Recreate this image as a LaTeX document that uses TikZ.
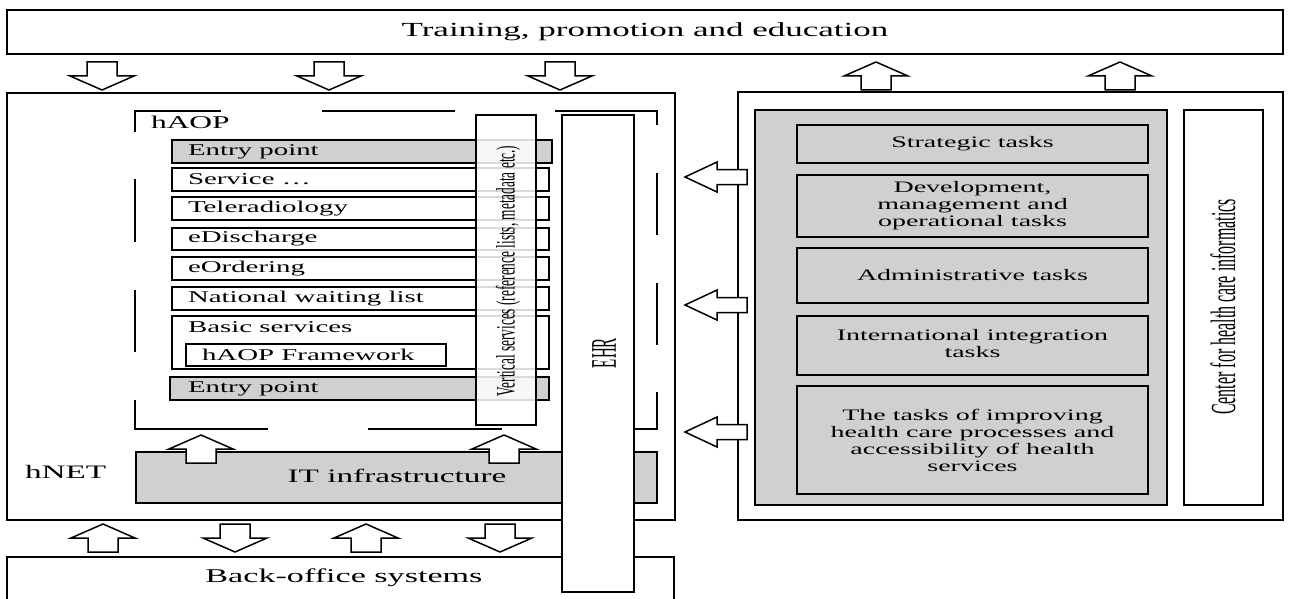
\documentclass[tikz,border=0pt]{standalone}
\usepackage{fontspec}
\setmainfont{Liberation Serif}
\usepackage{graphicx}
\definecolor{boxgray}{RGB}{208,208,208}
\newcommand{\hx}[2]{\scalebox{1.75}[1]{\fontsize{#1pt}{#1pt}\selectfont #2}}
\newcommand{\hml}[2]{\scalebox{1.75}[1]{\fontsize{#1pt}{17pt}\selectfont\begin{tabular}{@{}c@{}}#2\end{tabular}}}
\newcommand{\vx}[3]{\scalebox{1}[#2]{\fontsize{#1pt}{#1pt}\selectfont #3}}
\begin{document}
\begin{tikzpicture}[x=1pt,y=-1pt,
  box/.style={draw, line width=1.8pt, inner sep=0pt, outer sep=0pt, anchor=north west, fill=white},
  gbox/.style={box, fill=boxgray},
  lbl/.style={inner sep=0pt, outer sep=0pt},
  dline/.style={line width=1.6pt},
  arrowline/.style={draw, line width=1.5pt, fill=white, line join=miter},
  pics/harrow/.style={code={\path[arrowline] (0,-7.5) -- (30,-7.5) -- (30,-15) -- (62,0) -- (30,15) -- (30,7.5) -- (0,7.5) -- cycle;}},
  pics/varrow/.style={code={\path[arrowline] (-15,0) -- (15,0) -- (15,14) -- (32,14) -- (0,28) -- (-32,14) -- (-15,14) -- cycle;}}
]
\useasboundingbox (0,0) rectangle (1290,599);
\clip (0,0) rectangle (1290,599);

% outer boxes
\node[box, minimum width=1276pt, minimum height=44pt] (top) at (7,10) {};
\node[lbl] (toptext) at (top.center) {\hx{20}{Training, promotion and education}};
\node[box, minimum width=668pt, minimum height=427pt] (hnet) at (7,93) {};
\node[box, minimum width=545pt, minimum height=428pt] (right) at (738,92) {};
\node[box, minimum width=667pt, minimum height=70pt] (back) at (7,557) {};
\node[lbl] (backtext) at (344,578) {\hx{19.5}{Back-office systems}};

% top arrows
\pic (ta1) at (102,62) {varrow};
\pic (ta2) at (329,62) {varrow};
\pic (ta3) at (560,62) {varrow};
\pic[yscale=-1] (ta4) at (876,90) {varrow};
\pic[yscale=-1] (ta5) at (1120,90) {varrow};

% bottom arrows
\pic[yscale=-1] (ba1) at (103,552) {varrow};
\pic (ba2) at (235,524) {varrow};
\pic[yscale=-1] (ba3) at (366,552) {varrow};
\pic (ba4) at (500,524) {varrow};

% hNET content
\node[lbl, anchor=west] (hnettext) at (25,472) {\hx{19}{hNET}};
\node[gbox, minimum width=521pt, minimum height=51pt] (it) at (136,452) {};
\node[lbl] (ittext) at (397,476) {\hx{19}{IT infrastructure}};
\pic[yscale=-1] (ia1) at (201,463) {varrow};
\pic[yscale=-1] (ia2) at (504,463) {varrow};

% hAOP dashed frame
\draw[dline] (135,132) -- (135,111) -- (221,111);
\draw[dline] (322,111) -- (455,111);
\draw[dline] (555,111) -- (657,111) -- (657,125);
\draw[dline] (135,179) -- (135,242);
\draw[dline] (135,290) -- (135,352);
\draw[dline] (135,400) -- (135,429) -- (268,429);
\draw[dline] (368,429) -- (502,429);
\draw[dline] (634,429) -- (657,429) -- (657,392);
\draw[dline] (657,173) -- (657,235);
\draw[dline] (657,283) -- (657,345);
\node[lbl, anchor=west] (haop) at (151,122) {\hx{18}{hAOP}};

% service list
\node[gbox, minimum width=380pt, minimum height=23pt] (entry1) at (172,140) {};
\node[box, minimum width=377pt, minimum height=23pt] (service) at (172,168) {};
\node[box, minimum width=377pt, minimum height=23pt] (telerad) at (172,197) {};
\node[box, minimum width=377pt, minimum height=22pt] (edisch) at (172,228) {};
\node[box, minimum width=377pt, minimum height=23pt] (eorder) at (172,257) {};
\node[box, minimum width=377pt, minimum height=23pt] (natwait) at (172,287) {};
\node[box, minimum width=377pt, minimum height=53pt] (basic) at (172,316) {};
\node[box, minimum width=260pt, minimum height=22pt] (frame) at (186,344) {};
\node[gbox, minimum width=379pt, minimum height=23pt] (entry2) at (170,377) {};

\node[lbl, anchor=west] (t1) at (188,151.5) {\hx{16.5}{Entry point}};
\node[lbl, anchor=west] (t2) at (188,179.5) {\hx{16.5}{Service \dots}};
\node[lbl, anchor=west] (t3) at (188,208.5) {\hx{16.5}{Teleradiology}};
\node[lbl, anchor=west] (t4) at (188,239) {\hx{16.5}{eDischarge}};
\node[lbl, anchor=west] (t5) at (188,268.5) {\hx{16.5}{eOrdering}};
\node[lbl, anchor=west] (t6) at (188,298.5) {\hx{16.5}{National waiting list}};
\node[lbl, anchor=west] (t7) at (188,327) {\hx{16.5}{Basic services}};
\node[lbl, anchor=west] (t8) at (202,355) {\hx{16.5}{hAOP Framework}};
\node[lbl, anchor=west] (t9) at (188,388.5) {\hx{16.5}{Entry point}};

% vertical services
\node[box, fill opacity=0.85, minimum width=60pt, minimum height=310pt] (vs) at (476,115) {};
\node[lbl, rotate=90] (vstext) at (508,271) {\vx{13.3}{2.0}{Vertical services (reference lists, metadata etc.)}};

% EHR
\node[box, minimum width=72pt, minimum height=477pt] (ehr) at (562,115) {};
\node[lbl, rotate=90] (ehrtext) at (604,353) {\vx{15}{2.4}{EHR}};

% right panel
\node[gbox, minimum width=412pt, minimum height=395pt] (panel) at (755,110) {};
\node[gbox, minimum width=351pt, minimum height=38pt] (strat) at (797,125) {};
\node[gbox, minimum width=351pt, minimum height=62pt] (dev) at (797,175) {};
\node[gbox, minimum width=351pt, minimum height=55pt] (admin) at (797,248) {};
\node[gbox, minimum width=351pt, minimum height=59pt] (intl) at (797,316) {};
\node[gbox, minimum width=351pt, minimum height=108pt] (improve) at (797,386) {};
\node[lbl] (strattext) at (strat.center) {\hx{16}{Strategic tasks}};
\node[lbl] (devtext) at (dev.center) {\hml{16}{Development,\\ management and\\ operational tasks}};
\node[lbl] (admintext) at (admin.center) {\hx{16}{Administrative tasks}};
\node[lbl] (intltext) at (intl.center) {\hml{16}{International integration\\ tasks}};
\node[lbl] (improvetext) at ([yshift=-3pt]improve.center) {\hml{16}{The tasks of improving\\ health care processes and\\ accessibility of health\\ services}};
\node[box, minimum width=79pt, minimum height=395pt] (chi) at (1184,110) {};
\node[lbl, rotate=90] (chitext) at (1223,307) {\vx{16}{2.2}{Center for health care informatics}};

% left arrows
\pic[rotate=180] (la1) at (747,177) {harrow};
\pic[rotate=180] (la2) at (747,305) {harrow};
\pic[rotate=180] (la3) at (747,432) {harrow};
\end{tikzpicture}
\end{document}
